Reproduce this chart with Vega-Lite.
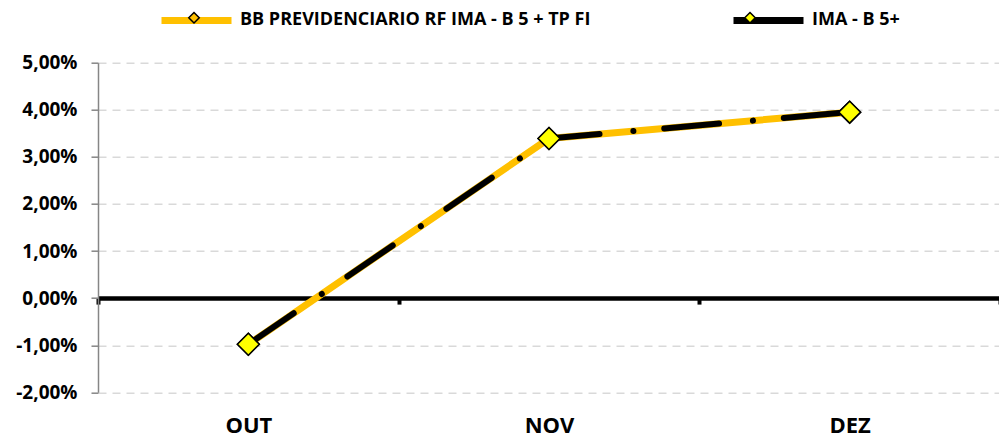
{
  "$schema": "https://vega.github.io/schema/vega-lite/v6.json",
  "width": 902,
  "height": 329.6,
  "autosize": "none",
  "padding": {"left": 98, "top": 62.7, "right": 0, "bottom": 44.7},
  "config": {
    "locale": {"number": {"decimal": ",", "thousands": ".", "grouping": [3], "currency": ["R$", ""], "minus": "-"}},
    "view": {"stroke": null},
    "font": "Open Sans"
  },
  "data": {
    "values": [
      {"k": "a", "serie": "BB PREVIDENCIARIO RF IMA - B 5 + TP FI", "mes": "OUT", "valor": -0.0098},
      {"k": "a", "serie": "BB PREVIDENCIARIO RF IMA - B 5 + TP FI", "mes": "NOV", "valor": 0.0339},
      {"k": "a", "serie": "BB PREVIDENCIARIO RF IMA - B 5 + TP FI", "mes": "DEZ", "valor": 0.0395},
      {"k": "b", "serie": "IMA - B 5+", "mes": "OUT", "valor": -0.0098},
      {"k": "b", "serie": "IMA - B 5+", "mes": "NOV", "valor": 0.0339},
      {"k": "b", "serie": "IMA - B 5+", "mes": "DEZ", "valor": 0.0395}
    ]
  },
  "encoding": {
    "x": {
      "field": "mes", "type": "nominal", "sort": ["OUT", "NOV", "DEZ"],
      "scale": {"paddingInner": 0, "paddingOuter": 0},
      "axis": {
        "orient": "bottom", "offset": -94.2, "title": null, "grid": false,
        "domainColor": "black", "domainWidth": 4.5,
        "ticks": true, "tickBand": "extent", "tickColor": "black", "tickWidth": 4, "tickSize": 6,
        "labelFont": "Open Sans", "labelFontSize": 22, "labelFontWeight": "bold", "labelColor": "black",
        "labelPadding": 111, "labelAngle": 0
      }
    },
    "y": {
      "field": "valor", "type": "quantitative",
      "scale": {"domain": [-0.02, 0.05], "nice": false, "zero": false},
      "axis": {
        "orient": "left", "title": null, "format": ".2%",
        "values": [-0.02, -0.01, 0, 0.01, 0.02, 0.03, 0.04, 0.05],
        "grid": true, "gridColor": "#d9d9d9", "gridDash": [8, 6], "gridWidth": 1.5,
        "domainColor": "#868686", "domainWidth": 1.5,
        "tickColor": "#868686", "tickSize": 7, "tickWidth": 1.5,
        "labelFont": "Open Sans", "labelFontSize": 19, "labelFontWeight": "bold", "labelColor": "black",
        "labelPadding": 14
      }
    }
  },
  "layer": [
    {
      "transform": [{"filter": "datum.k == 'a'"}],
      "mark": {"type": "line", "strokeWidth": 7, "strokeCap": "butt", "strokeJoin": "round"},
      "encoding": {
        "stroke": {
          "field": "serie", "type": "nominal",
          "scale": {"domain": ["BB PREVIDENCIARIO RF IMA - B 5 + TP FI", "IMA - B 5+"], "range": ["#FFC000", "#000000"]},
          "legend": {
            "title": null, "orient": "none", "legendX": 60, "legendY": -81,
            "direction": "horizontal", "columns": 2, "columnPadding": 128,
            "symbolType": "stroke", "symbolSize": 4900, "symbolStrokeWidth": 7,
            "labelFont": "Open Sans", "labelFontSize": 18, "labelFontWeight": "bold", "labelColor": "black",
            "labelOffset": 5, "labelLimit": 600
          }
        }
      }
    },
    {
      "transform": [{"filter": "datum.k == 'b'"}],
      "mark": {"type": "line", "strokeWidth": 6, "strokeCap": "round", "strokeJoin": "round", "strokeDash": [55, 34, 0.01, 31]},
      "encoding": {
        "stroke": {"field": "serie", "type": "nominal"}
      }
    },
    {
      "transform": [{"calculate": "datum.serie", "as": "marcador"}],
      "mark": {"type": "point", "shape": "diamond", "filled": true, "size": 480, "stroke": "black", "strokeWidth": 1.5, "opacity": 1},
      "encoding": {
        "fill": {
          "field": "marcador", "type": "nominal",
          "scale": {"range": ["#FFC000", "#FFFF00"]},
          "legend": {
            "title": null, "orient": "none", "legendX": 60, "legendY": -81,
            "direction": "horizontal", "columns": 2, "columnPadding": 128,
            "symbolType": "M0,-0.15L0.15,0L0,0.15L-0.15,0Z", "symbolSize": 4900,
            "symbolStrokeColor": "black", "symbolStrokeWidth": 1.5, "symbolOpacity": 1,
            "labelFont": "Open Sans", "labelFontSize": 18, "labelFontWeight": "bold", "labelColor": "transparent",
            "labelOffset": 5, "labelLimit": 600
          }
        }
      }
    }
  ]
}
